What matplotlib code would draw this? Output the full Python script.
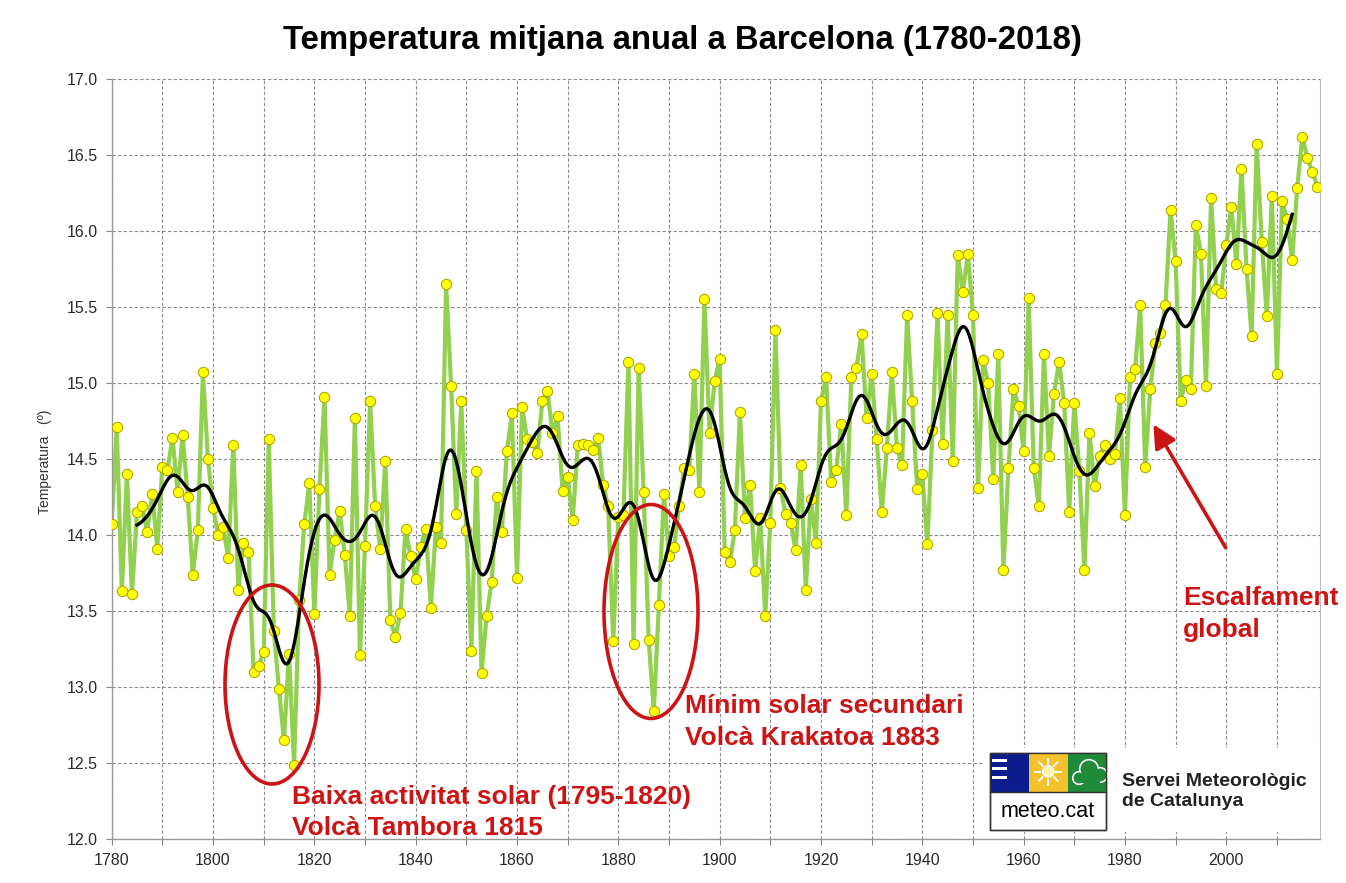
import matplotlib
matplotlib.use("Agg")
import matplotlib.pyplot as plt
import numpy as np
from matplotlib.patches import Ellipse, Rectangle, Circle, FancyArrowPatch

plt.rcParams['font.family'] = ['Liberation Sans', 'DejaVu Sans']

# ---------------- data ----------------
years = list(range(1780, 2019))
temps = [
    14.07, 14.71, 13.63, 14.40, 13.61, 14.15, 14.19, 14.02, 14.27, 13.91,
    14.45, 14.43, 14.64, 14.28, 14.66, 14.25, 13.74, 14.03, 15.07, 14.50,
    14.18, 14.00, 14.05, 13.85, 14.59, 13.64, 13.95, 13.89, 13.10, 13.14,
    13.23, 14.63, 13.37, 12.99, 12.65, 13.22, 12.49, 13.57, 14.07, 14.34,
    13.48, 14.30, 14.91, 13.74, 13.97, 14.16, 13.87, 13.47, 14.77, 13.21,
    13.93, 14.88, 14.19, 13.91, 14.49, 13.44, 13.33, 13.49, 14.04, 13.86,
    13.71, 13.92, 14.04, 13.52, 14.05, 13.95, 15.65, 14.98, 14.14, 14.88,
    14.03, 13.24, 14.42, 13.09, 13.47, 13.69, 14.25, 14.02, 14.55, 14.80,
    13.72, 14.84, 14.63, 14.61, 14.54, 14.88, 14.95, 14.67, 14.78, 14.29,
    14.38, 14.10, 14.59, 14.60, 14.59, 14.56, 14.64, 14.33, 14.19, 13.30,
    14.12, 14.13, 15.14, 13.28, 15.10, 14.28, 13.31, 12.84, 13.54, 14.27,
    13.86, 13.92, 14.19, 14.44, 14.43, 15.06, 14.28, 15.55, 14.67, 15.01,
    15.16, 13.89, 13.82, 14.03, 14.81, 14.11, 14.33, 13.76, 14.11, 13.47,
    14.08, 15.35, 14.31, 14.14, 14.08, 13.90, 14.46, 13.64, 14.24, 13.95,
    14.88, 15.04, 14.35, 14.43, 14.73, 14.13, 15.04, 15.10, 15.32, 14.77,
    15.06, 14.63, 14.15, 14.57, 15.07, 14.57, 14.46, 15.45, 14.88, 14.30,
    14.40, 13.94, 14.69, 15.46, 14.60, 15.45, 14.49, 15.84, 15.60, 15.85,
    15.45, 14.31, 15.15, 15.00, 14.37, 15.19, 13.77, 14.44, 14.96, 14.85,
    14.55, 15.56, 14.44, 14.19, 15.19, 14.52, 14.93, 15.14, 14.87, 14.15,
    14.87, 14.42, 13.77, 14.67, 14.32, 14.52, 14.59, 14.50, 14.53, 14.90,
    14.13, 15.04, 15.09, 15.51, 14.45, 14.96, 15.26, 15.33, 15.51, 16.14,
    15.80, 14.88, 15.02, 14.96, 16.04, 15.85, 14.98, 16.22, 15.62, 15.59,
    15.91, 16.16, 15.78, 16.41, 15.75, 15.31, 16.57, 15.93, 15.44, 16.23,
    15.06, 16.20, 16.08, 15.81, 16.28, 16.62, 16.48, 16.39, 16.29,
]
assert len(years) == len(temps)

xtick_labels = ["1780", "1800", "1820", "1840", "1860", "1880", "1900",
                "1920", "1940", "1960", "1980", "2000"]
ytick_values = [12.0, 12.5, 13.0, 13.5, 14.0, 14.5, 15.0, 15.5, 16.0, 16.5, 17.0]

smooth_start, smooth_end = 1785, 2013   # extent of the smoothed (black) curve
smooth_sigma = 2.1                       # years

title = "Temperatura mitjana anual a Barcelona (1780-2018)"
ylabel = "Temperatura   (º)"

# ---------------- smoothing (Gaussian kernel on the data) ----------------
yr = np.asarray(years, float)
tv = np.asarray(temps, float)
t_fine = np.linspace(smooth_start, smooth_end, 1500)
w = np.exp(-0.5 * ((t_fine[:, None] - yr[None, :]) / smooth_sigma) ** 2)
smooth = (w * tv[None, :]).sum(1) / w.sum(1)

# ---------------- figure ----------------
W, H = 1346, 883
fig = plt.figure(figsize=(W / 100, H / 100), dpi=100)
fig.patch.set_facecolor("white")

L, R, T, B = 111.7, 1320, 79, 839
ax = fig.add_axes([L / W, 1 - B / H, (R - L) / W, (B - T) / H])
ax.set_xlim(1780, 2018.5)
ax.set_ylim(12, 17)

ax.plot(years, temps, color="#92d050", lw=3.0, zorder=2, solid_joinstyle="round")
ax.plot(years, temps, ls="none", marker="o", ms=7.4, mfc="#ffff00",
        mec="#b0a800", mew=0.8, zorder=3)
ax.plot(t_fine, smooth, color="black", lw=2.4, zorder=4)

ax.set_xticks([int(s) for s in xtick_labels])
ax.set_xticklabels(xtick_labels)
ax.set_xticks(np.arange(1780, 2019, 10), minor=True)
ax.set_yticks(ytick_values)
ax.set_yticklabels([f"{v:.1f}" for v in ytick_values])
ax.tick_params(axis="both", which="both", labelsize=11.5, colors="#888888",
               labelcolor="#2a2a2a", length=4, width=0.8)
ax.tick_params(axis="x", pad=6)
ax.tick_params(axis="y", pad=6)

ax.grid(True, which="both", axis="x", color="#8a8a8a", ls=(0, (3, 2)), lw=0.8)
ax.grid(True, which="major", axis="y", color="#8a8a8a", ls=(0, (3, 2)), lw=0.8)
ax.set_axisbelow(True)
for s in ["left", "bottom"]:
    ax.spines[s].set_color("#9a9a9a")
    ax.spines[s].set_linewidth(1.0)
ax.spines["right"].set_color("#bbbbbb")
ax.spines["top"].set_visible(False)

# ---------------- overlay in pixel coordinates ----------------
ov = fig.add_axes([0, 0, 1, 1], zorder=10)
ov.set_xlim(0, W)
ov.set_ylim(H, 0)
ov.axis("off")

ov.text(682, 40, title, ha="center", va="center", fontsize=23.7,
        fontweight="bold", color="black")
ov.text(45, 462, ylabel, ha="center", va="center", rotation=90,
        fontsize=10, color="#333333")

red = "#cc1414"
ov.add_patch(Ellipse((272, 684.5), 94, 199, fill=False, ec=red, lw=2.6))
ov.add_patch(Ellipse((651, 611.5), 94, 214, fill=False, ec=red, lw=2.6))

fs_red = 19
ov.text(292, 797, "Baixa activitat solar (1795-1820)", ha="left", va="center",
        fontsize=fs_red, fontweight="bold", color=red)
ov.text(292, 828, "Volcà Tambora 1815", ha="left", va="center",
        fontsize=fs_red, fontweight="bold", color=red)
ov.text(685, 706, "Mínim solar secundari", ha="left", va="center",
        fontsize=fs_red, fontweight="bold", color=red)
ov.text(685, 738, "Volcà Krakatoa 1883", ha="left", va="center",
        fontsize=fs_red, fontweight="bold", color=red)
ov.text(1183, 598, "Escalfament", ha="left", va="center",
        fontsize=fs_red, fontweight="bold", color=red)
ov.text(1183, 630, "global", ha="left", va="center",
        fontsize=fs_red, fontweight="bold", color=red)

ov.add_patch(FancyArrowPatch((1227, 550), (1152, 422),
                             arrowstyle="-|>,head_length=0.7,head_width=0.35",
                             mutation_scale=20, color=red, lw=2.6))

# logo block
ov.add_patch(Rectangle((983, 748), 337, 84, fc="white", ec="none"))
ov.add_patch(Rectangle((989.5, 752.5), 116.5, 77, fc="white", ec="#333333", lw=1.0))
ov.add_patch(Rectangle((989.5, 752.5), 39, 39.5, fc="#0b1c8c", ec="none"))
for yb in (758.5, 767, 775.5):
    ov.add_patch(Rectangle((991.5, yb), 15, 3, fc="white", ec="none"))
ov.add_patch(Rectangle((1028.5, 752.5), 39, 39.5, fc="#f3c22c", ec="none"))
sx, sy = 1048.3, 771.5
ov.add_patch(Circle((sx, sy), 5.5, fc="#fff3b0", ec="white", lw=1.2))
for ang in np.arange(0, 360, 45):
    a = np.deg2rad(ang)
    ov.plot([sx + 8 * np.cos(a), sx + 13 * np.cos(a)],
            [sy + 8 * np.sin(a), sy + 13 * np.sin(a)], color="white", lw=1.4)
ov.add_patch(Rectangle((1067.5, 752.5), 38.5, 39.5, fc="#1f8a38", ec="none"))
cloud = [(1079, 778, 5.5), (1089, 769, 8.5), (1100, 775, 6.5)]
for cx, cy, r in cloud:
    ov.add_patch(Circle((cx, cy), r + 1.6, fc="white", ec="none"))
for cx, cy, r in cloud:
    ov.add_patch(Circle((cx, cy), r, fc="#1f8a38", ec="none"))
ov.add_patch(Rectangle((1079, 776), 21, 7, fc="#1f8a38", ec="none"))
ov.add_patch(Rectangle((989.5, 752.5), 116.5, 77, fill=False, ec="#333333", lw=1.0))
ov.plot([989.5, 1106], [792, 792], color="#333333", lw=1.0)
ov.text(1047.5, 811.5, "meteo.cat", ha="center", va="center", fontsize=15.5,
        color="black")
ov.text(1122, 781, "Servei Meteorològic", ha="left", va="center",
        fontsize=14, fontweight="bold", color="#222222")
ov.text(1122, 801, "de Catalunya", ha="left", va="center",
        fontsize=14, fontweight="bold", color="#222222")

fig.savefig("out.png", dpi=100, facecolor="white")
